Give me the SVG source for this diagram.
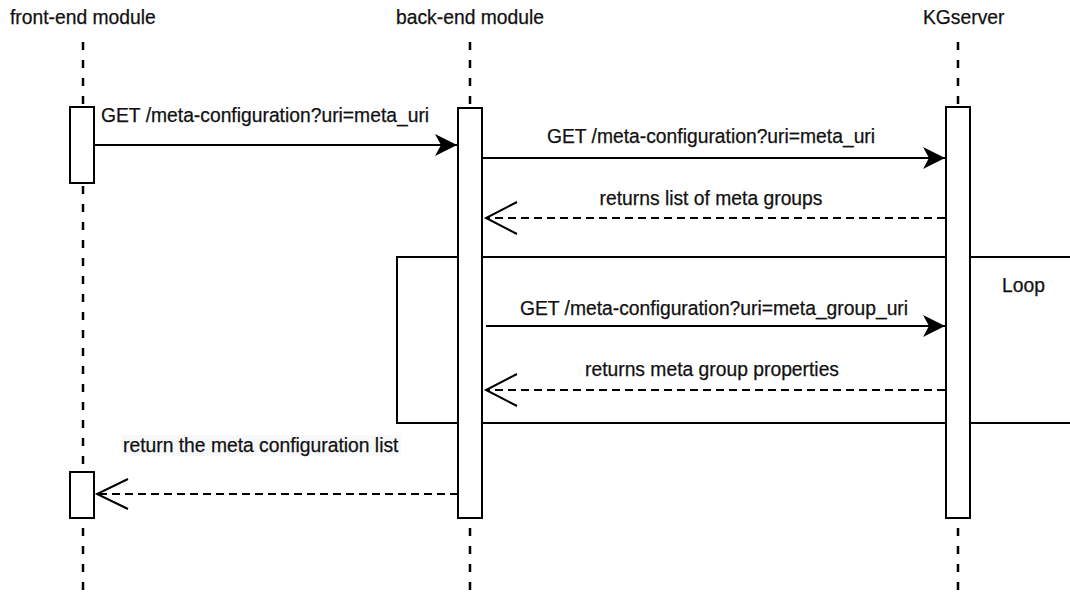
<svg xmlns="http://www.w3.org/2000/svg" width="1070" height="595" viewBox="0 0 1070 595">
  <defs>
    <style>
      text { font-family: "Liberation Sans", Arial, Helvetica, sans-serif; font-size: 19.3px; fill: #111; stroke: #111; stroke-width: 0.25px; }
      .life { stroke: #000; stroke-width: 2.5; stroke-dasharray: 8 10; fill: none; }
      .act { fill: #fff; stroke: #000; stroke-width: 2; }
      .frame { fill: none; stroke: #000; stroke-width: 2; }
      .msg { stroke: #000; stroke-width: 2; fill: none; }
      .ret { stroke: #000; stroke-width: 2; fill: none; stroke-dasharray: 8 5; }
      .head { fill: none; stroke: #000; stroke-width: 2; }
      .mid { text-anchor: middle; }
    </style>
    <marker id="filled" viewBox="0 0 22 22" markerWidth="22" markerHeight="22" refX="22" refY="11" orient="auto" markerUnits="userSpaceOnUse">
      <path d="M22,11 L0,0 L6,11 L0,22 Z" fill="#000"/>
    </marker>
  </defs>

  <rect width="1070" height="595" fill="#fff"/>

  <g id="frontend">
    <text x="10" y="24">front-end module</text>
    <line class="life" x1="83" y1="42" x2="83" y2="595"/>
    <rect class="act" x="70" y="107" width="24" height="76"/>
  </g>

  <g id="backend">
    <text class="mid" x="470" y="24">back-end module</text>
    <line class="life" x1="470" y1="42" x2="470" y2="595"/>
  </g>

  <g id="kgserver">
    <text x="923" y="24">KGserver</text>
    <line class="life" x1="958" y1="42" x2="958" y2="595"/>
  </g>

  <g id="loop">
    <path class="frame" d="M1072,257 L397,257 L397,423 L1072,423"/>
    <text x="1002" y="292">Loop</text>
  </g>

  <g id="activations">
    <rect class="act" x="458" y="108" width="24" height="410"/>
    <rect class="act" x="946" y="107" width="24" height="411"/>
    <rect class="act" x="70" y="472" width="24" height="46"/>
  </g>

  <g id="connectors">
    <line class="msg" x1="95" y1="145" x2="457" y2="145" marker-end="url(#filled)"/>
    <text x="101" y="122">GET /meta-configuration?uri=meta_uri</text>

    <line class="msg" x1="482" y1="158" x2="945" y2="158" marker-end="url(#filled)"/>
    <text class="mid" x="711" y="143">GET /meta-configuration?uri=meta_uri</text>

    <line class="ret" x1="945" y1="218" x2="486" y2="218"/>
    <path class="head" d="M517,202 L486,218 L517,234"/>
    <text class="mid" x="711" y="205">returns list of meta groups</text>

    <line class="msg" x1="486" y1="326" x2="945" y2="326" marker-end="url(#filled)"/>
    <text class="mid" x="714" y="315">GET /meta-configuration?uri=meta_group_uri</text>

    <line class="ret" x1="945" y1="390" x2="486" y2="390"/>
    <path class="head" d="M517,374 L486,390 L517,406"/>
    <text class="mid" x="712" y="376">returns meta group properties</text>

    <line class="ret" x1="458" y1="494" x2="97" y2="494"/>
    <path class="head" d="M128,479 L97,494 L128,509"/>
    <rect x="122" y="435" width="279" height="21" fill="#f7f8f9"/>
    <text x="123" y="452">return the meta configuration list</text>
  </g>
</svg>
